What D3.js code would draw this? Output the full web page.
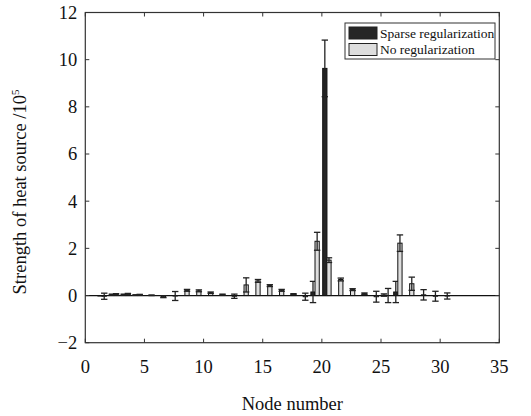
<!DOCTYPE html>
<html><head><meta charset="utf-8">
<script src="https://cdn.jsdelivr.net/npm/d3@7"></script>
<style>body{margin:0;background:#fff}svg{display:block}text{font-family:"Liberation Serif","Times New Roman",serif;fill:#111}</style>
</head><body>
<svg id="c" width="531" height="416"></svg>
<script>
const nodes = d3.range(1, 31);
const sparse    = [-0.02,0.04,0.04,0.02,0,0,0,0,0,0,0,0,0,0,0,0,0,0,0.15,9.63,0,0,0,0,0.02,0.15,0,0,0,0];
const sparseErr = [0,0.02,0.02,0.01,0,0,0,0,0,0,0,0,0,0,0,0,0,0,0.45,1.2,0,0,0,0,0.05,0.45,0,0,0,0];
const noReg     = [-0.03,0.05,0.06,0.03,0.01,-0.05,-0.02,0.22,0.2,0.12,0.04,-0.03,0.45,0.62,0.42,0.22,0.06,-0.05,2.3,1.5,0.68,0.25,0.08,-0.05,0.0,2.22,0.5,0.03,-0.03,-0.02];
const noRegErr  = [0.13,0.03,0.03,0.02,0.01,0.04,0.19,0.04,0.04,0.03,0.02,0.09,0.3,0.06,0.04,0.04,0.02,0.15,0.38,0.1,0.06,0.04,0.03,0.23,0.3,0.35,0.28,0.22,0.21,0.13];
const xTicks = [0,5,10,15,20,25,30,35];
const yTicks = [-2,0,2,4,6,8,10,12];
const seriesNames = ["Sparse regularization","No regularization"];
const seriesFill = ["#262626","#dedede"];

const svg = d3.select("#c");
const L=85.3, R=499.3, T=12.5, B=342.7;
const x = d3.scaleLinear().domain([0,35]).range([L,R]);
const y = d3.scaleLinear().domain([-2,12]).range([B,T]);
const bw = x(0.36)-x(0);
const offs = [0.25, 0.6];
const axisCol = "#333";

svg.append("line").attr("x1",L).attr("x2",R).attr("y1",y(0)).attr("y2",y(0)).attr("stroke","#111").attr("stroke-width",1.2);

const series = [
  {vals: sparse, errs: sparseErr},
  {vals: noReg, errs: noRegErr}
];
series.forEach((s,si)=>{
  const g = svg.append("g");
  nodes.forEach((n,i)=>{
    const v = s.vals[i], e = s.errs[i];
    const cx = x(n+offs[si]);
    g.append("rect").attr("x",cx-bw/2).attr("width",bw)
      .attr("y",y(Math.max(0,v))).attr("height",Math.abs(y(v)-y(0)))
      .attr("fill",seriesFill[si]).attr("stroke","#111").attr("stroke-width",1);
    if(e>0){
      const cw=3.2;
      g.append("line").attr("x1",cx).attr("x2",cx).attr("y1",y(v-e)).attr("y2",y(v+e)).attr("stroke","#222").attr("stroke-width",1.3);
      [v-e,v+e].forEach(t=>g.append("line").attr("x1",cx-cw).attr("x2",cx+cw).attr("y1",y(t)).attr("y2",y(t)).attr("stroke","#222").attr("stroke-width",1.3));
    }
  });
});

svg.append("rect").attr("x",L).attr("y",T).attr("width",R-L).attr("height",B-T).attr("fill","none").attr("stroke",axisCol).attr("stroke-width",1.2);
const tl=4;
xTicks.forEach(t=>{
  svg.append("line").attr("x1",x(t)).attr("x2",x(t)).attr("y1",B).attr("y2",B-tl).attr("stroke",axisCol);
  svg.append("line").attr("x1",x(t)).attr("x2",x(t)).attr("y1",T).attr("y2",T+tl).attr("stroke",axisCol);
  svg.append("text").attr("x",x(t)).attr("y",B+30).attr("text-anchor","middle").attr("font-size",18.5).text(t);
});
yTicks.forEach(t=>{
  svg.append("line").attr("x1",L).attr("x2",L+tl).attr("y1",y(t)).attr("y2",y(t)).attr("stroke",axisCol);
  svg.append("line").attr("x1",R).attr("x2",R-tl).attr("y1",y(t)).attr("y2",y(t)).attr("stroke",axisCol);
  svg.append("text").attr("x",L-8).attr("y",y(t)).attr("dy","0.35em").attr("text-anchor","end").attr("font-size",18.5).text(t<0?"\u2212"+Math.abs(t):t);
});
svg.append("text").attr("x",(L+R)/2).attr("y",410).attr("text-anchor","middle").attr("font-size",18.5).text("Node number");
const yl = svg.append("text").attr("transform",`translate(26,192) rotate(-90)`).attr("text-anchor","middle").attr("font-size",18.5);
yl.append("tspan").text("Strength of heat source /10");
yl.append("tspan").attr("font-size",11).attr("dy",-7).text("5");

const lx=345, ly=23;
svg.append("rect").attr("x",lx).attr("y",ly).attr("width",150).attr("height",36).attr("fill","#fff").attr("stroke","#333").attr("stroke-width",1);
seriesNames.forEach((nm,i)=>{
  const yy = ly+4+i*16.5;
  svg.append("rect").attr("x",lx+4).attr("y",yy).attr("width",28).attr("height",12).attr("fill",seriesFill[i]).attr("stroke","#222").attr("stroke-width",1);
  svg.append("text").attr("x",lx+35).attr("y",yy+6).attr("dy","0.35em").attr("font-size",13.5).text(nm);
});
</script>
</body></html>
